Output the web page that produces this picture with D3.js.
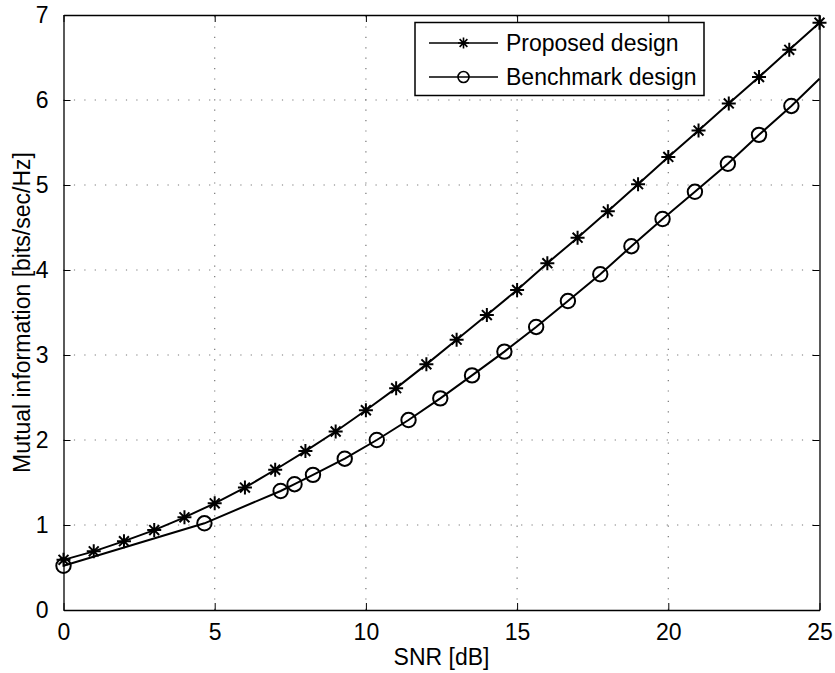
<!DOCTYPE html>
<html>
<head>
<meta charset="utf-8">
<script src="https://cdn.jsdelivr.net/npm/d3@7"></script>
<style>
  html, body { margin: 0; padding: 0; background: #fff; }
  svg text { font-family: "Liberation Sans", Arial, Helvetica, sans-serif; fill: #000; }
</style>
</head>
<body>
<svg id="chart" width="835" height="673"></svg>
<script>
// SNR grid and mutual information for the proposed design
const proposedSnr = [0, 1, 2, 3, 4, 5, 6, 7, 8, 9, 10, 11, 12, 13, 14, 15, 16, 17, 18, 19, 20, 21, 22, 23, 24, 25];
const proposedMI = [0.59, 0.69, 0.81, 0.94, 1.09, 1.255, 1.44, 1.65, 1.87, 2.10, 2.35, 2.61, 2.89, 3.18, 3.47, 3.765, 4.08, 4.38, 4.69, 5.01, 5.33, 5.64, 5.96, 6.27, 6.59, 6.91];

// Benchmark design (last point closes the curve at the axis edge, no marker)
const benchmarkSnr = [0, 4.66, 7.18, 7.64, 8.25, 9.30, 10.36, 11.41, 12.46, 13.51, 14.58, 15.63, 16.68, 17.75, 18.78, 19.81, 20.88, 21.97, 23.0, 24.07, 25];
const benchmarkMI = [0.52, 1.02, 1.40, 1.48, 1.59, 1.78, 2.00, 2.235, 2.49, 2.76, 3.04, 3.33, 3.635, 3.95, 4.28, 4.60, 4.92, 5.25, 5.59, 5.93, 6.25];
const benchmarkMarkerCount = 20;

const xTicks = [0, 5, 10, 15, 20, 25];
const yTicks = [0, 1, 2, 3, 4, 5, 6, 7];
const seriesNames = ["Proposed design", "Benchmark design"];
const xLabel = "SNR [dB]";
const yLabel = "Mutual information [bits/sec/Hz]";

const box = { left: 63.5, right: 819.5, top: 15, bottom: 610 };
const svg = d3.select("#chart");
const x = d3.scaleLinear().domain([0, 25]).range([box.left, box.right]);
const y = d3.scaleLinear().domain([0, 7]).range([box.bottom, box.top]);
const fontSize = 23;
const tickLen = 7;

// dotted grid
const grid = svg.append("g").attr("stroke", "#777").attr("stroke-width", 1.2).attr("stroke-dasharray", "1.2,9.2");
xTicks.slice(1, -1).forEach(t => {
  grid.append("line").attr("x1", x(t)).attr("x2", x(t)).attr("y1", box.bottom).attr("y2", box.top);
});
yTicks.slice(1, -1).forEach(t => {
  grid.append("line").attr("x1", box.left).attr("x2", box.right).attr("y1", y(t)).attr("y2", y(t));
});

// axes with inward ticks on all four sides
const fmt = d3.format("d");
const axBottom = d3.axisBottom(x).tickValues(xTicks).tickFormat(fmt).tickSizeInner(-tickLen).tickSizeOuter(0).tickPadding(14);
const axTop = d3.axisTop(x).tickValues(xTicks).tickSizeInner(-tickLen).tickSizeOuter(0).tickFormat("");
const axLeft = d3.axisLeft(y).tickValues(yTicks).tickFormat(fmt).tickSizeInner(-tickLen).tickSizeOuter(0).tickPadding(15);
const axRight = d3.axisRight(y).tickValues(yTicks).tickSizeInner(-tickLen).tickSizeOuter(0).tickFormat("");

function styleAxis(g) {
  g.select(".domain").attr("stroke", "#000").attr("stroke-width", 1.3);
  g.selectAll(".tick line").attr("stroke", "#000").attr("stroke-width", 1);
  g.selectAll(".tick text").attr("font-size", fontSize).attr("font-family", "Liberation Sans, Arial, sans-serif").attr("fill", "#000");
}
svg.append("g").attr("transform", `translate(0,${box.bottom})`).call(axBottom).call(styleAxis);
svg.append("g").attr("transform", `translate(0,${box.top})`).call(axTop).call(styleAxis);
svg.append("g").attr("transform", `translate(${box.left},0)`).call(axLeft).call(styleAxis);
svg.append("g").attr("transform", `translate(${box.right},0)`).call(axRight).call(styleAxis);

// axis labels
svg.append("text").attr("x", (box.left + box.right) / 2).attr("y", 665).attr("text-anchor", "middle")
  .attr("font-size", fontSize).text(xLabel);
svg.append("text").attr("transform", `translate(30,${(box.top + box.bottom) / 2}) rotate(-90)`).attr("text-anchor", "middle")
  .attr("font-size", fontSize).text(yLabel);

// marker helpers
function drawStar(g, cx, cy, r, w) {
  const d = r * Math.SQRT1_2;
  const p = `M${cx - r},${cy}L${cx + r},${cy}M${cx},${cy - r}L${cx},${cy + r}` +
            `M${cx - d},${cy - d}L${cx + d},${cy + d}M${cx - d},${cy + d}L${cx + d},${cy - d}`;
  g.append("path").attr("d", p).attr("stroke", "#000").attr("stroke-width", w).attr("fill", "none");
}
function drawCircle(g, cx, cy, r, w) {
  g.append("circle").attr("cx", cx).attr("cy", cy).attr("r", r)
    .attr("stroke", "#000").attr("stroke-width", w).attr("fill", "none");
}

const line = d3.line().x(d => x(d[0])).y(d => y(d[1]));
const plot = svg.append("g");

const proposed = proposedSnr.map((s, i) => [s, proposedMI[i]]);
const benchmark = benchmarkSnr.map((s, i) => [s, benchmarkMI[i]]);

plot.append("path").datum(proposed).attr("d", line).attr("fill", "none").attr("stroke", "#000").attr("stroke-width", 2);
plot.append("path").datum(benchmark).attr("d", line).attr("fill", "none").attr("stroke", "#000").attr("stroke-width", 2);

proposed.forEach(d => drawStar(plot, x(d[0]), y(d[1]), 7, 2));
benchmark.slice(0, benchmarkMarkerCount).forEach(d => drawCircle(plot, x(d[0]), y(d[1]), 7.2, 2));

// legend
const legend = svg.append("g");
legend.append("rect").attr("x", 415).attr("y", 22.5).attr("width", 289).attr("height", 73)
  .attr("fill", "#fff").attr("stroke", "#000").attr("stroke-width", 1.5);
const rows = [43, 77];
rows.forEach((ly, i) => {
  legend.append("line").attr("x1", 429).attr("x2", 498).attr("y1", ly).attr("y2", ly)
    .attr("stroke", "#000").attr("stroke-width", 1.6);
  if (i === 0) drawStar(legend, 463.5, ly, 5.5, 1.6);
  else drawCircle(legend, 463.5, ly, 5.5, 1.6);
  legend.append("text").attr("x", 506).attr("y", ly + 8).attr("font-size", fontSize).text(seriesNames[i]);
});
</script>
</body>
</html>
